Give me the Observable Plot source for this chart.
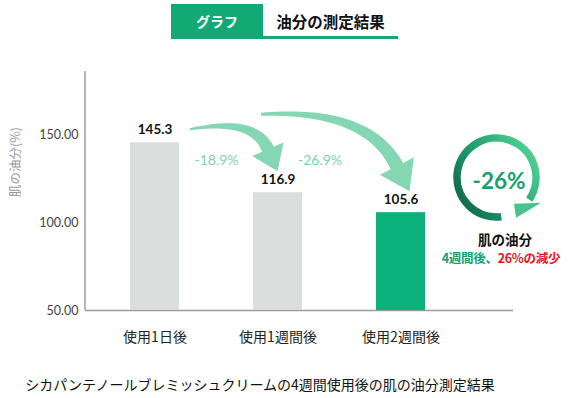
<!DOCTYPE html>
<html><head><meta charset="utf-8">
<script src="https://cdn.jsdelivr.net/npm/d3@7"></script>
<script src="https://cdn.jsdelivr.net/npm/@observablehq/plot@0.6"></script>
<style>
body{margin:0;background:#fff;}
#wrap{position:relative;width:568px;height:398px;overflow:hidden;font-family:"Noto Sans CJK JP",sans-serif;}
#wrap > svg{position:absolute;left:0;top:0;}
.abs{position:absolute;display:flex;align-items:center;justify-content:center;white-space:nowrap;}
[aria-label^="x-axis"] text{font-family:"Noto Sans CJK JP",sans-serif;font-size:14px;fill:#222;}
[aria-label^="y-axis"] text{font-family:Lato,sans-serif;font-size:12.5px;fill:#444;}
</style></head><body><div id="wrap"></div>
<script>
// ---- data ----
const categories = ["使用1日後", "使用1週間後", "使用2週間後"];
const values = [145.3, 116.9, 105.6];
const highlighted = [false, false, true];
const yTicks = [50, 100, 150];
const yLabel = "肌の油分(%)";
const changeLabels = ["-18.9%", "-26.9%"];
const changeFrom = ["使用1日後", "使用1週間後"];
const changeTo = ["使用1週間後", "使用2週間後"];
const tabTitle = "グラフ";
const tabSubtitle = "油分の測定結果";
const summaryValue = "-26%";
const summaryTitle = "肌の油分";
const summaryLine = ["4週間後、", "26%の減少"];
const caption = "シカパンテノールブレミッシュクリームの4週間使用後の肌の油分測定結果";

const data = categories.map((c, i) => ({cat: c, value: values[i], hl: highlighted[i]}));
const changes = changeLabels.map((l, i) => ({label: l, from: changeFrom[i], to: changeTo[i],
  fromValue: values[0], toValue: values[categories.indexOf(changeTo[i])]}));

const GREEN = "#0cb07b", GRAY = "#dadedd", ARROW = "#85d6b2";

function taper(S, C, H, w0, w1, hw, hl) {
  const N = 40, L = [], R = [];
  for (let i = 0; i <= N; i++) {
    const t = i / N, mt = 1 - t;
    const px = mt*mt*S[0] + 2*mt*t*C[0] + t*t*H[0];
    const py = mt*mt*S[1] + 2*mt*t*C[1] + t*t*H[1];
    let tx = 2*mt*(C[0]-S[0]) + 2*t*(H[0]-C[0]);
    let ty = 2*mt*(C[1]-S[1]) + 2*t*(H[1]-C[1]);
    const len = Math.hypot(tx, ty); tx /= len; ty /= len;
    const w = (w0 + (w1 - w0) * Math.pow(t, 0.9)) / 2;
    L.push([px - ty*w, py + tx*w]); R.push([px + ty*w, py - tx*w]);
  }
  let ex = H[0]-C[0], ey = H[1]-C[1]; const el = Math.hypot(ex, ey); ex /= el; ey /= el;
  const pts = [...L, [H[0]-ey*hw/2, H[1]+ex*hw/2], [H[0]+ex*hl, H[1]+ey*hl], [H[0]+ey*hw/2, H[1]-ex*hw/2], ...R.reverse()];
  return "M" + pts.map(p => p[0].toFixed(2) + "," + p[1].toFixed(2)).join("L") + "Z";
}

function decorations(index, scales, vals, dims) {
  const x = scales.x, y = scales.y, bw = x.bandwidth();
  const g = d3.create("svg:g");
  g.append("line").attr("x1", dims.marginLeft).attr("x2", dims.marginLeft)
    .attr("y1", dims.marginTop).attr("y2", dims.height - dims.marginBottom)
    .attr("stroke", "#9b9b9b").attr("stroke-width", 1.5);
  const specs = [
    {sx: bw + 11, sy: -13, tdx: 0, dir: [0.4, 0.92], hl: 24, cy: -12, w0: 2, w1: 13, hw: 34},
    {sx: 8, sy: -28, tdx: 9, dir: [0.45, 0.89], hl: 28, cy: -6, w0: 3, w1: 14, hw: 38}
  ];
  changes.forEach((c, i) => {
    const s = specs[i];
    const dl = Math.hypot(...s.dir), d = [s.dir[0]/dl, s.dir[1]/dl];
    const S = [x(c.from) + s.sx, y(c.fromValue) + s.sy];
    const tip = [x(c.to) + bw/2 + s.tdx, y(c.toValue) - 21];
    const H = [tip[0] - d[0]*s.hl, tip[1] - d[1]*s.hl];
    const cyy = S[1] + s.cy, k = (H[1] - cyy) / d[1];
    const C = [H[0] - k*d[0], cyy];
    g.append("path").attr("d", taper(S, C, H, s.w0, s.w1, s.hw, s.hl)).attr("fill", ARROW);
  });
  return g.node();
}

const plot = Plot.plot({
  width: 568, height: 398,
  marginTop: 71, marginBottom: 88, marginLeft: 85, marginRight: 55,
  style: {fontFamily: "Lato, 'Noto Sans CJK JP', sans-serif", fontSize: "12px", background: "transparent", overflow: "visible"},
  x: {domain: categories, paddingInner: 0.6016, paddingOuter: 0.54, align: 0.339, tickSize: 0, tickPadding: 22, label: null},
  y: {domain: [50, 185.8], ticks: yTicks, tickFormat: d => d.toFixed(2), tickSize: 0, tickPadding: 7, label: null},
  marks: [
    Plot.ruleY([50], {stroke: "#9b9b9b", strokeWidth: 1.5}),
    Plot.barY(data, {x: "cat", y1: 50, y2: "value", fill: d => d.hl ? GREEN : GRAY}),
    Plot.text(data, {x: "cat", y: "value", text: d => d.value.toFixed(1), dy: -13, fontWeight: 700, fontSize: 13.5, fill: "#111"}),
    decorations,
    Plot.text(changes.slice(0, 1), {x: "from", y: "fromValue", text: "label", dx: 61.5, dy: 18, fontSize: 14, fill: "#7fd1ad"}),
    Plot.text(changes.slice(1, 2), {x: "from", y: "fromValue", text: "label", dx: 42, dy: 18, fontSize: 14, fill: "#7fd1ad"}),
    Plot.text([yLabel], {frameAnchor: "left", dx: -69.5, dy: 6, rotate: -90, fontSize: 12.5, fill: "#9a9a9a", fontFamily: "'Noto Sans CJK JP', sans-serif"})
  ]
});

const wrap = document.getElementById("wrap");
wrap.appendChild(plot);

// header tabs, summary badge and caption
wrap.insertAdjacentHTML("beforeend", `
<div class="abs" style="left:171px;top:4px;width:92px;height:33px;background:#13a975;color:#fff;font-weight:700;font-size:14px;">${tabTitle}</div>
<div class="abs" style="left:263px;top:4px;width:135px;height:33px;color:#111;font-weight:700;font-size:15.5px;">${tabSubtitle}</div>
<div style="position:absolute;left:171px;top:36px;width:227px;height:3px;background:#13a975;"></div>
<svg style="position:absolute;left:0;top:0" width="568" height="398" id="ring">
  <defs><linearGradient id="rg" x1="0" y1="1" x2="1" y2="0.35">
    <stop offset="0" stop-color="#0f5c46"/><stop offset="0.5" stop-color="#1c9a6c"/><stop offset="1" stop-color="#4ccb90"/>
  </linearGradient></defs>
</svg>
<div class="abs" style="left:446px;top:164px;width:106px;height:32px;color:#19a06e;font-family:Lato,sans-serif;font-weight:700;font-size:22.5px;">${summaryValue}</div>
<div class="abs" style="left:440px;top:229px;width:130px;height:20px;color:#111;font-weight:700;font-size:13.5px;">${summaryTitle}</div>
<div class="abs" style="left:436px;top:248px;width:130px;height:19px;font-weight:700;font-size:12.5px;letter-spacing:-0.3px;"><span style="color:#17a06e">${summaryLine[0]}</span><span style="color:#e3161d">${summaryLine[1]}</span></div>
<div class="abs" style="left:30px;top:373px;width:460px;height:22px;color:#111;font-size:14px;">${caption}</div>
`);

// ring arrow
(function(){
  const svg = d3.select("#ring");
  const cx = 496.5, cy = 177.5, r = 39.5;
  const a0 = 173, a1 = 484;
  const pt = a => [cx + r*Math.sin(a*Math.PI/180), cy - r*Math.cos(a*Math.PI/180)];
  const p0 = pt(a0), p1 = pt(a1);
  svg.append("path").attr("d", `M${p0}A${r},${r} 0 1 1 ${p1}`).attr("fill", "none")
    .attr("stroke", "url(#rg)").attr("stroke-width", 7.5);
  const B = pt(487);
  const head = [[B[0]-14, B[1]+2.5], [B[0]+13, B[1]+1.5], [B[0]-12, B[1]+16.5]];
  svg.append("path").attr("d", "M" + head.map(p => p.join(",")).join("L") + "Z").attr("fill", "#45c58c");
})();
</script></body></html>
